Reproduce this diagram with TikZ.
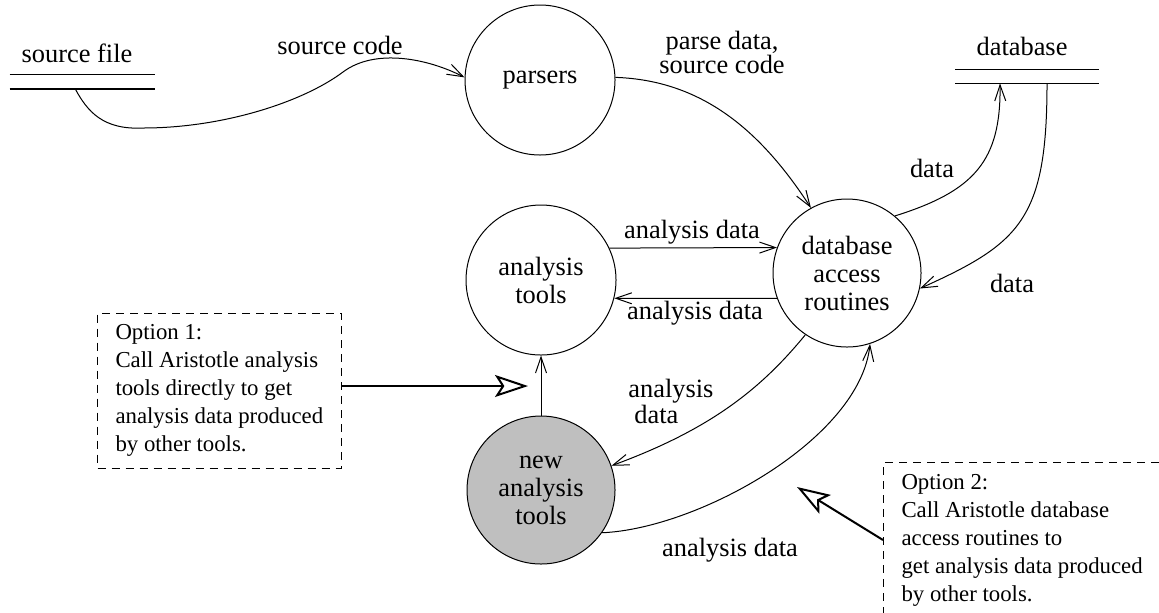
\documentclass[tikz,border=0pt]{standalone}
\usepackage{fontspec}
\setmainfont{Liberation Serif}
\usetikzlibrary{arrows.meta}

\definecolor{toolgray}{gray}{0.75}

\tikzset{
  proc/.style={circle, draw, line width=0.5pt, minimum size=75pt, inner sep=0pt,
    align=center, font=\fontsize{13.2}{14}\selectfont},
  store/.style={minimum width=72.5pt, minimum height=7pt, inner sep=0pt},
  flow/.style={line width=0.5pt, -{Straight Barb[length=8pt,width=5.5pt]}},
  lbl/.style={font=\fontsize{13.2}{12}\selectfont, align=center, inner sep=0pt},
  note/.style={draw, dash pattern=on 4pt off 3pt, line width=0.5pt, align=left,
    inner xsep=9pt, minimum height=77.5pt, font=\fontsize{11.4}{14}\selectfont},
  hint/.style={line width=1pt, -{Stealth[open,length=16.5pt,width=11pt,inset=3.5pt]}}
}

\begin{document}
\begin{tikzpicture}[x=0.5pt, y=-0.5pt]
  \path[use as bounding box, clip] (0,0) rectangle (1159,612);

  % -- stores --
  \node[store] (srcfile) at (82.5,82) {};
  \draw[line width=0.7pt] (srcfile.north west) -- (srcfile.north east);
  \draw[line width=1pt] (srcfile.south west) -- (srcfile.south east);
  \node[lbl, anchor=base] (srcname) at (77,62) {source file};

  \node[store, minimum width=71.5pt, minimum height=6.5pt] (dbstore) at (1027,76.5) {};
  \draw[line width=0.8pt] (dbstore.north west) -- (dbstore.north east);
  \draw[line width=0.8pt] (dbstore.south west) -- (dbstore.south east);
  \node[lbl, anchor=base] (dbname) at (1022,55) {database};

  % -- processes --
  \node[proc] (parsers) at (540,80) {parsers};
  \node[proc] (atools) at (541,280) {analysis\\tools};
  \node[proc, minimum size=74pt] (dbaccess) at (847,273) {database\\access\\routines};
  \node[proc, minimum size=74pt, fill=toolgray] (ntools) at (541,490) {new\\analysis\\tools};

  % -- flows --
  \draw[flow] ([xshift=-3.5pt]srcfile.south) .. controls +(12,22) and +(-40,2) .. (143,128)
    .. controls +(80,0) and +(-40,30) .. (343,72)
    .. controls +(32,-24) and +(-37,-19) .. (parsers.178);
  \node[lbl] (l-src) at (340,45) {source code};

  \draw[flow] (parsers.2) .. controls +(87,3) and +(-50,-77) .. (dbaccess.119);
  \node[lbl] (l-parse) at (722,52) {parse data,\\source code};

  \draw[flow] (dbaccess.50) .. controls +(80,-25) and +(1,77) .. ([xshift=-13.5pt]dbstore.south);
  \node[lbl] (l-up) at (932,168) {data};
  \draw[flow] ([xshift=10pt]dbstore.south) .. controls +(0,136) and +(100,-45) .. (dbaccess.-12);
  \node[lbl] (l-down) at (1012,283) {data};

  \draw[flow] (atools.25) -- (dbaccess.160);
  \node[lbl] (l-ad1) at (692,232) {analysis data};
  \draw[flow] (dbaccess.200) -- (atools.-14);
  \node[lbl] (l-ad2) at (695,313) {analysis data};

  \draw[flow] (ntools.north) -- (atools.south);

  \draw[flow] (dbaccess.236) .. controls +(-45,55) and +(98,-36) .. (ntools.19);
  \node[lbl, align=left, anchor=west] (l-ad3) at (628,401) {analysis\\\hspace{3pt}data};
  \draw[flow] (ntools.-35) .. controls +(96,-4) and +(-10,95) .. (dbaccess.-72);
  \node[lbl] (l-ad4) at (730,550) {analysis data};

  % -- options --
  \node[note, anchor=west] (opt1) at (97,390.5) {Option 1:\\Call Aristotle analysis\\tools directly to get\\analysis data produced\\by other tools.};
  \node[note, anchor=north west] (opt2) at (883,462) {Option 2:\\Call Aristotle database\\access routines to\\get analysis data produced\\by other tools.};

  \coordinate (tip1) at (528,386);
  \draw[hint] (opt1.east |- tip1) -- (tip1);
  \coordinate (tip2) at (797,487);
  \draw[hint] (opt2.west) -- (tip2);
\end{tikzpicture}
\end{document}
